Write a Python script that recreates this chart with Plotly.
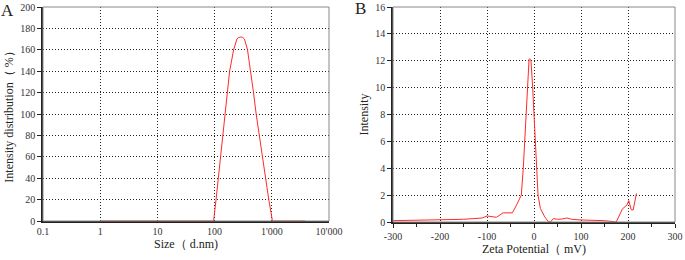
import plotly.graph_objects as go

# Panel A: size distribution
size_nm = [1, 3, 10, 30, 96, 106, 116, 126, 136, 150, 164, 183, 215, 230, 245, 265, 288, 310, 333, 376, 430, 479, 533,
           601, 678, 775, 885, 1026, 2000, 3800]
intensity_pct = [0, 0, 0, 0, 0, 20, 40, 60, 80, 100, 120, 140, 160, 166, 170, 171.5, 172, 171.5, 170, 160, 140, 120,
                 100, 80, 60, 40, 20, 0, 0, 0]
size_ticks = [0.1, 1, 10, 100, 1000, 10000]
size_ticktext = ["0.1", "1", "10", "100", "1'000", "10'000"]

# Panel B: zeta potential
zeta_mv = [-300, -250, -200, -150, -130, -110, -100, -90, -80, -66, -55, -46, -38, -32, -27, -22.8, -19.9, -17.8,
           -14.9, -12.1, -10.5, -9.2, -7.8, -6.4, -2.8, 0, 2.2, 4.4, 8.6, 13.6, 22.9, 30, 35, 41, 50, 60, 70, 80, 90,
           100, 150, 169, 175, 188, 198, 201.5, 207, 211, 214, 218]
zeta_int = [0.1, 0.12, 0.15, 0.2, 0.25, 0.3, 0.45, 0.4, 0.35, 0.68, 0.7, 0.68, 1.2, 1.6, 2.0, 4.0, 6.0, 8.0,
            10.0, 12.0, 12.1, 12.15, 12.1, 12.0, 10.0, 8.0, 6.0, 4.0, 2.0, 1.0, 0.38, 0.05, 0.0, 0.25, 0.2, 0.22, 0.3,
            0.2, 0.15, 0.15, 0.1, 0.05, 0.0, 0.97, 1.27, 1.6, 0.9, 0.9, 1.5, 2.13]
zeta_ticks = [-300, -200, -100, 0, 100, 200, 300]
zeta_ticktext = ["-300", "-200", "-100", "0", "100", "200", "300"]

FONT = "Liberation Serif"
W, H = 685, 260

def fx(px):
    return px / W

def fy(py):
    return 1 - py / H

fig = go.Figure()
fig.add_trace(go.Scatter(x=size_nm, y=intensity_pct, mode="lines",
                         line=dict(color="#ff2a2a", width=1),
                         xaxis="x", yaxis="y", showlegend=False))
fig.add_trace(go.Scatter(x=zeta_mv, y=zeta_int, mode="lines",
                         line=dict(color="#ff2a2a", width=1),
                         xaxis="x2", yaxis="y2", showlegend=False))

grid = dict(showgrid=True, gridcolor="#222222", griddash="1px,2px", gridwidth=1, zeroline=False, automargin=False)
tickfont = dict(family=FONT, size=10, color="#333333")
titlefont = dict(family=FONT, size=12, color="#222222")

fig.update_layout(
    width=W, height=H, margin=dict(l=0, r=0, t=0, b=0, autoexpand=False),
    paper_bgcolor="white", plot_bgcolor="white",
    font=dict(family=FONT),
    xaxis=dict(domain=[fx(43), fx(329)], type="log", range=[-1, 4], tickvals=size_ticks, ticktext=size_ticktext,
               showline=True, linecolor="#222222", linewidth=1.5, ticks="", tickfont=tickfont,
               title=dict(text="Size（ d.nm)", font=titlefont, standoff=4), anchor="y", **grid),
    yaxis=dict(domain=[fy(221), fy(7)], range=[0, 200], dtick=20, showline=True, linecolor="#222222", linewidth=1.5,
               ticks="outside", ticklen=4, tickcolor="#222222", tickfont=tickfont,
               title=dict(text="Intensity distribution（ %）", font=titlefont, standoff=4), anchor="x", **grid),
    xaxis2=dict(domain=[fx(393), fx(675)], range=[-300, 300], tickvals=zeta_ticks, ticktext=zeta_ticktext,
                showline=True, linecolor="#222222",
                linewidth=1.5, ticks="outside", ticklen=4, tickcolor="#222222", tickfont=tickfont,
                minor=dict(ticks="outside", tickvals=[-250, -150, -50, 50, 150, 250], ticklen=3,
                           tickcolor="#222222", showgrid=False),
                title=dict(text="Zeta Potential（ mV)", font=titlefont, standoff=2), anchor="y2", **grid),
    yaxis2=dict(domain=[fy(222), fy(7)], range=[0, 16], dtick=2, showline=True, linecolor="#222222", linewidth=1.5,
                ticks="outside", ticklen=4, tickcolor="#222222", tickfont=tickfont,
                title=dict(text="Intensity", font=titlefont, standoff=4), anchor="x2", **grid),
    shapes=[
        dict(type="rect", xref="x domain", yref="y domain", x0=0, x1=1, y0=0, y1=1,
             line=dict(color="#888888", width=1)),
        dict(type="rect", xref="x2 domain", yref="y2 domain", x0=0, x1=1, y0=0, y1=1,
             line=dict(color="#888888", width=1)),
    ],
    annotations=[
        dict(text="A", x=fx(8), y=fy(11), xref="paper", yref="paper", showarrow=False,
             xanchor="center", yanchor="middle", font=dict(family=FONT, size=17, color="#222222")),
        dict(text="B", x=fx(361), y=fy(9), xref="paper", yref="paper", showarrow=False,
             xanchor="center", yanchor="middle", font=dict(family=FONT, size=17, color="#222222")),
    ],
)

fig.write_html("out.html", config={"displayModeBar": False},
               post_script="document.body.style.margin='0';")
